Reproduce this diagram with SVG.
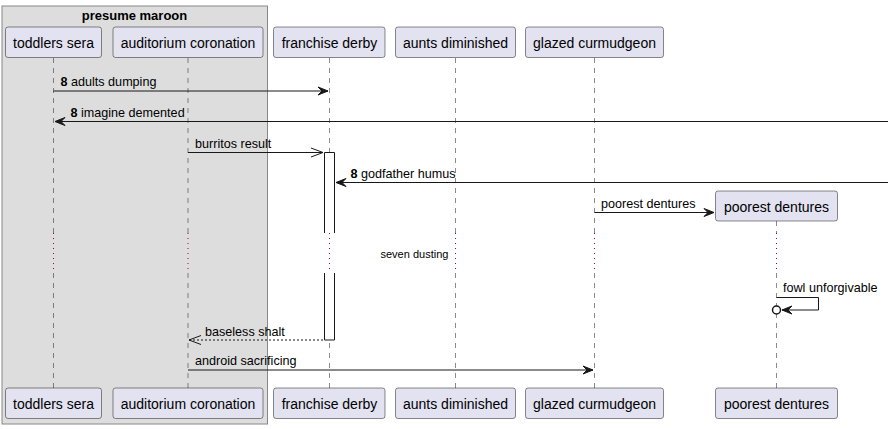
<svg xmlns="http://www.w3.org/2000/svg" width="888" height="429" viewBox="0 0 888 429">
<style>
text{font-family:"Liberation Sans",Arial,sans-serif;fill:#000}
.p rect{fill:#E2E2F0;stroke:#181818;stroke-width:0.5}
.p text{font-size:14px}
.ll{stroke:#181818;stroke-width:0.5;stroke-dasharray:5,5}
.dl{stroke:#A80036;stroke-width:1;stroke-dasharray:1,4}
.m{stroke:#181818;stroke-width:1;fill:none}
.ml{font-size:12.6px}
.ah{fill:#181818;stroke:#181818;stroke-width:1}
.oh{fill:none;stroke:#181818;stroke-width:1}
</style>
<g id="group-presume-maroon">
<rect x="2" y="6" width="265.5" height="418" fill="#DDDDDD" stroke="#888888" stroke-width="1"/>
<text x="134.5" y="19.5" text-anchor="middle" font-size="13" font-weight="bold">presume maroon</text>
</g>
<g id="lifelines">
<line class="ll" x1="53.5" y1="58" x2="53.5" y2="233"/>
<line class="dl" x1="53.5" y1="233" x2="53.5" y2="273"/>
<line class="ll" x1="53.5" y1="273" x2="53.5" y2="388"/>
<line class="ll" x1="188" y1="58" x2="188" y2="233"/>
<line class="dl" x1="188" y1="233" x2="188" y2="273"/>
<line class="ll" x1="188" y1="273" x2="188" y2="388"/>
<line class="ll" x1="329.5" y1="58" x2="329.5" y2="233"/>
<line class="dl" x1="329.5" y1="233" x2="329.5" y2="273"/>
<line class="ll" x1="329.5" y1="273" x2="329.5" y2="388"/>
<line class="ll" x1="455.5" y1="58" x2="455.5" y2="233"/>
<line class="dl" x1="455.5" y1="233" x2="455.5" y2="273"/>
<line class="ll" x1="455.5" y1="273" x2="455.5" y2="388"/>
<line class="ll" x1="594.5" y1="58" x2="594.5" y2="233"/>
<line class="dl" x1="594.5" y1="233" x2="594.5" y2="273"/>
<line class="ll" x1="594.5" y1="273" x2="594.5" y2="388"/>
<line class="ll" x1="776.5" y1="221" x2="776.5" y2="233"/>
<line class="dl" x1="776.5" y1="233" x2="776.5" y2="273"/>
<line class="ll" x1="776.5" y1="273" x2="776.5" y2="388"/>
</g>
<g id="activation-franchise-derby">
<path d="M324.5,233 V152.5 H334.5 V233" fill="#FFFFFF" stroke="#181818" stroke-width="1"/>
<line class="dl" x1="329.5" y1="233" x2="329.5" y2="273"/>
<path d="M324.5,273 V340 H334.5 V273" fill="#FFFFFF" stroke="#181818" stroke-width="1"/>
</g>
<g id="toddlers-sera" class="p">
<rect x="5.5" y="27" width="96" height="30.5" rx="2.5"/>
<text x="53.5" y="47.5" text-anchor="middle">toddlers sera</text>
<rect x="5.5" y="388" width="96" height="30.5" rx="2.5"/>
<text x="53.5" y="408.5" text-anchor="middle">toddlers sera</text>
</g>
<g id="auditorium-coronation" class="p">
<rect x="113" y="27" width="150" height="30.5" rx="2.5"/>
<text x="188" y="47.5" text-anchor="middle">auditorium coronation</text>
<rect x="113" y="388" width="150" height="30.5" rx="2.5"/>
<text x="188" y="408.5" text-anchor="middle">auditorium coronation</text>
</g>
<g id="franchise-derby" class="p">
<rect x="273.5" y="27" width="111.5" height="30.5" rx="2.5"/>
<text x="329.5" y="47.5" text-anchor="middle">franchise derby</text>
<rect x="273.5" y="388" width="111.5" height="30.5" rx="2.5"/>
<text x="329.5" y="408.5" text-anchor="middle">franchise derby</text>
</g>
<g id="aunts-diminished" class="p">
<rect x="395.5" y="27" width="120" height="30.5" rx="2.5"/>
<text x="455.5" y="47.5" text-anchor="middle">aunts diminished</text>
<rect x="395.5" y="388" width="120" height="30.5" rx="2.5"/>
<text x="455.5" y="408.5" text-anchor="middle">aunts diminished</text>
</g>
<g id="glazed-curmudgeon" class="p">
<rect x="525.5" y="27" width="138" height="30.5" rx="2.5"/>
<text x="594.5" y="47.5" text-anchor="middle">glazed curmudgeon</text>
<rect x="525.5" y="388" width="138" height="30.5" rx="2.5"/>
<text x="594.5" y="408.5" text-anchor="middle">glazed curmudgeon</text>
</g>
<g id="poorest-dentures" class="p">
<rect x="715.5" y="191" width="122" height="30" rx="2.5"/>
<text x="776.5" y="211.5" text-anchor="middle">poorest dentures</text>
<rect x="715.5" y="388" width="122" height="30.5" rx="2.5"/>
<text x="776.5" y="408.5" text-anchor="middle">poorest dentures</text>
</g>
<g id="connectors">
<line class="m" x1="53.5" y1="91" x2="328" y2="91"/>
<polygon class="ah" points="318,87 328,91 318,95 322,91"/>
<text class="ml" x="60.5" y="86"><tspan font-weight="bold">8</tspan> adults dumping</text>

<line class="m" x1="55" y1="121.5" x2="888" y2="121.5"/>
<polygon class="ah" points="65,117.5 55,121.5 65,125.5 61,121.5"/>
<text class="ml" x="70.5" y="116.5"><tspan font-weight="bold">8</tspan> imagine demented</text>

<line class="m" x1="188" y1="152.5" x2="323" y2="152.5"/>
<polyline class="oh" points="311,148 323,152.5 311,157"/>
<text class="ml" x="195" y="147.5">burritos result</text>

<line class="m" x1="336" y1="182.5" x2="888" y2="182.5"/>
<polygon class="ah" points="346,178.5 336,182.5 346,186.5 342,182.5"/>
<text class="ml" x="350.5" y="177.5"><tspan font-weight="bold">8</tspan> godfather humus</text>

<line class="m" x1="594.5" y1="212.5" x2="714" y2="212.5"/>
<polygon class="ah" points="704,208.5 714,212.5 704,216.5 708,212.5"/>
<text class="ml" x="601" y="207.5">poorest dentures</text>

<text x="380.5" y="258" font-size="11">seven dusting</text>

<polyline class="m" points="776.5,297.5 818.5,297.5 818.5,310 782,310"/>
<polygon class="ah" points="792,306 782,310 792,314 788,310"/>
<circle cx="776.5" cy="310" r="4" fill="#FFFFFF" stroke="#181818" stroke-width="1.5"/>
<text class="ml" x="783" y="291.5">fowl unforgivable</text>

<line class="m" x1="189" y1="340" x2="324" y2="340" stroke-dasharray="2,2"/>
<polyline class="oh" points="201,335.5 189,340 201,344.5"/>
<text class="ml" x="205" y="335.5">baseless shalt</text>

<line class="m" x1="188" y1="370" x2="593" y2="370"/>
<polygon class="ah" points="583,366 593,370 583,374 587,370"/>
<text class="ml" x="195" y="365">android sacrificing</text>
</g>
</svg>
